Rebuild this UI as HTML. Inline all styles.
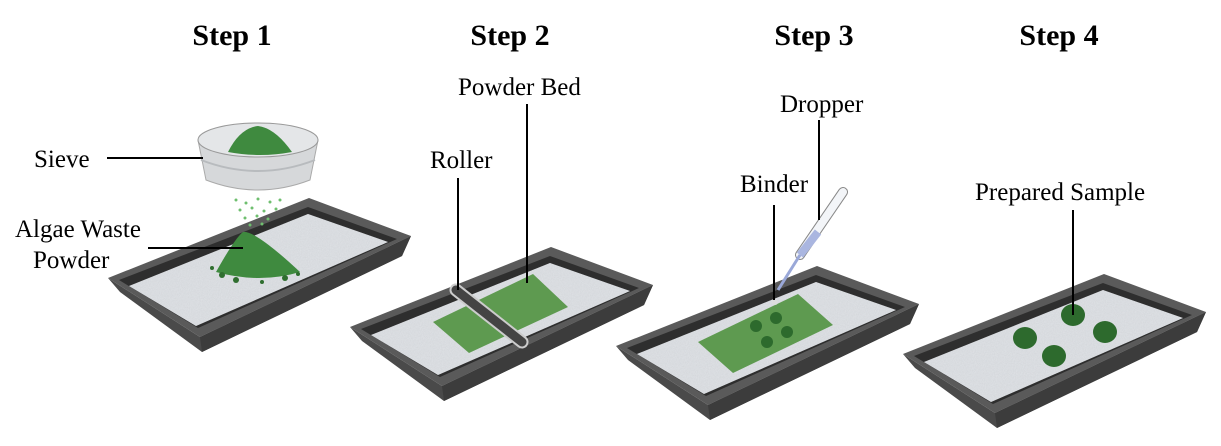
<!DOCTYPE html>
<html><head><meta charset="utf-8"><style>
html,body{margin:0;padding:0;background:#fff;}
svg{display:block;}
text{font-family:"Liberation Serif","Times New Roman",serif;fill:#000;}
.t{font-weight:bold;font-size:30px;text-anchor:middle;}
.l{font-size:25px;}
</style></head><body>
<svg width="1221" height="446" viewBox="0 0 1221 446" xmlns="http://www.w3.org/2000/svg" font-family="Liberation Serif, serif">
<defs>
<filter id="n" x="0" y="0" width="100%" height="100%"><feTurbulence type="fractalNoise" baseFrequency="0.9" numOctaves="2" result="t"/><feColorMatrix type="matrix" values="0 0 0 0 0.8  0 0 0 0 0.82  0 0 0 0 0.85  0 0 0 -1.2 1.1"/><feComposite in2="SourceGraphic" operator="in"/></filter>
<g id="tray">
<polygon points="903,354 915,368 997,428 1197,332 1206,312 995,413" fill="#4a4a4a"/>
<polygon points="995,413 997,428 1197,332 1206,312" fill="#3c3c3c"/>
<polygon points="903,354 1104,274 1206,312 995,413" fill="#5a5a5a"/>
<polygon points="914,356 1103,283 1192,315 993,404" fill="#2e2e2e"/>
<polygon points="924,362 1103,290 1183,318 991,402" fill="#d3d6da"/>
<polygon points="924,362 1103,290 1183,318 991,402" fill="#d3d6da" filter="url(#n)" opacity="0.6"/>
</g>
</defs>
<text class="t" x="232" y="45" font-family="Liberation Serif, serif">Step 1</text>
<text class="t" x="510" y="45" font-family="Liberation Serif, serif">Step 2</text>
<text class="t" x="814" y="45" font-family="Liberation Serif, serif">Step 3</text>
<text class="t" x="1059" y="45" font-family="Liberation Serif, serif">Step 4</text>

<use href="#tray" transform="translate(-795,-76)"/>
<use href="#tray" transform="translate(-553,-27)"/>
<use href="#tray" transform="translate(-287,-8)"/>
<use href="#tray"/>

<!-- Step 1 -->
<g fill="#6fbf6f">
<circle cx="236" cy="200" r="1.5"/><circle cx="246" cy="203" r="1.5"/><circle cx="258" cy="199" r="1.5"/><circle cx="270" cy="202" r="1.5"/><circle cx="280" cy="200" r="1.5"/>
<circle cx="240" cy="210" r="1.5"/><circle cx="252" cy="208" r="1.5"/><circle cx="264" cy="211" r="1.5"/><circle cx="276" cy="209" r="1.5"/>
<circle cx="245" cy="218" r="1.5"/><circle cx="257" cy="216" r="1.5"/><circle cx="268" cy="219" r="1.5"/><circle cx="250" cy="225" r="1.5"/><circle cx="262" cy="224" r="1.5"/>
</g>
<path d="M198,140 L206,180 Q258,200 310,180 L318,140 Z" fill="#d6d8da" stroke="#aaa"/>
<ellipse cx="258" cy="140" rx="60" ry="17" fill="#e4e6e8" stroke="#999"/>
<path d="M228,152 Q240,128 258,126 Q275,128 292,152 Q260,158 228,152 Z" fill="#3f8a3f"/>
<path d="M201,160 Q258,182 315,160" fill="none" stroke="#b8bbbe" stroke-width="2"/>
<path d="M216,272 Q235,238 243,232 Q255,230 300,272 Q260,284 216,272 Z" fill="#3f8a3f"/>
<g fill="#2f6e2f"><circle cx="222" cy="275" r="3"/><circle cx="236" cy="280" r="3"/><circle cx="285" cy="278" r="3"/><circle cx="298" cy="274" r="2"/><circle cx="212" cy="268" r="2"/><circle cx="262" cy="282" r="2"/></g>
<line x1="107" y1="158" x2="203" y2="158" stroke="#000" stroke-width="2"/>
<line x1="148" y1="248" x2="243" y2="248" stroke="#000" stroke-width="2"/>
<text class="l" x="34" y="167" font-family="Liberation Serif, serif">Sieve</text>
<text class="l" x="15" y="237" font-family="Liberation Serif, serif">Algae Waste</text>
<text class="l" x="33" y="268" font-family="Liberation Serif, serif">Powder</text>

<!-- Step 2 -->
<polygon points="433,322 533,274 568,307 469,353" fill="#5e9a50"/>
<line x1="456" y1="290" x2="522" y2="342" stroke="#ccc" stroke-width="13" stroke-linecap="round"/>
<line x1="456" y1="290" x2="522" y2="342" stroke="#444" stroke-width="9" stroke-linecap="round"/>
<line x1="458" y1="178" x2="458" y2="290" stroke="#000" stroke-width="2"/>
<line x1="527" y1="104" x2="527" y2="283" stroke="#000" stroke-width="2"/>
<text class="l" x="430" y="168" font-family="Liberation Serif, serif">Roller</text>
<text class="l" x="458" y="95" font-family="Liberation Serif, serif">Powder Bed</text>

<!-- Step 3 -->
<polygon points="698,342 798,294 833,325 733,373" fill="#5e9a50"/>
<g fill="#2d6a2d"><circle cx="776" cy="318" r="6"/><circle cx="756" cy="326" r="6"/><circle cx="787" cy="332" r="6"/><circle cx="767" cy="342" r="6"/></g>
<circle cx="775" cy="302" r="3" fill="#ddd"/>
<line x1="843" y1="192" x2="800" y2="255" stroke="#888" stroke-width="10" stroke-linecap="round"/>
<line x1="843" y1="192" x2="800" y2="255" stroke="#f3f5f8" stroke-width="8" stroke-linecap="round"/>
<line x1="818" y1="232" x2="800" y2="255" stroke="#aab6e0" stroke-width="8"/>
<line x1="800" y1="255" x2="778" y2="290" stroke="#9aa8d8" stroke-width="3"/>
<line x1="774" y1="205" x2="774" y2="300" stroke="#000" stroke-width="2"/>
<line x1="819" y1="120" x2="819" y2="220" stroke="#000" stroke-width="2"/>
<text class="l" x="740" y="192" font-family="Liberation Serif, serif">Binder</text>
<text class="l" x="780" y="112" font-family="Liberation Serif, serif">Dropper</text>

<!-- Step 4 -->
<g fill="#2d6a2d"><ellipse cx="1073" cy="315" rx="12" ry="11"/><ellipse cx="1105" cy="332" rx="12" ry="11"/><ellipse cx="1025" cy="338" rx="12" ry="11"/><ellipse cx="1054" cy="356" rx="12" ry="11"/></g>
<line x1="1073" y1="210" x2="1073" y2="315" stroke="#000" stroke-width="2"/>
<text class="l" x="975" y="200" font-family="Liberation Serif, serif">Prepared Sample</text>
</svg>
</body></html>
